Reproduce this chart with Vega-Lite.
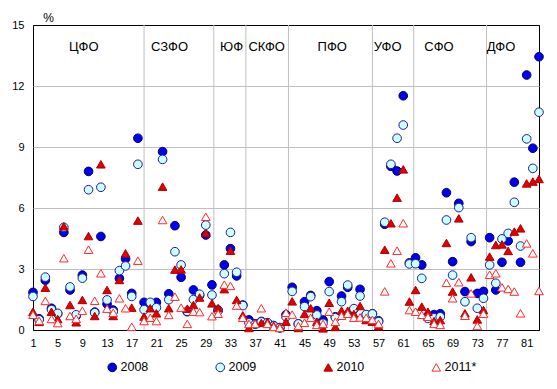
{
"$schema": "https://vega.github.io/schema/vega-lite/v6.json",
"width": 506, "height": 305,
"autosize": {"type": "none"},
"padding": {"left": 33, "top": 25, "right": 18, "bottom": 59},
"background": "white",
"config": {
 "view": {"stroke": "black", "strokeWidth": 1},
 "font": "Liberation Sans",
 "axis": {"domain": false, "ticks": false, "labelFont": "Liberation Sans", "labelFontSize": 11, "labelColor": "black", "grid": false},
 "axisX": {"labelOverlap": false, "labelSeparation": 0, "labelBound": false, "labelFlush": false}
},
"datasets": {
 "bounds": [{"r":19.0},{"r":30.3},{"r":35.5},{"r":42.4},{"r":56.0},{"r":62.7},{"r":74.5}],
 "labels": [{"r":9.23,"v":13.9,"t":"ЦФО"},{"r":23.13,"v":13.9,"t":"СЗФО"},{"r":33.18,"v":13.9,"t":"ЮФ"},{"r":38.87,"v":13.9,"t":"СКФО"},{"r":49.49,"v":13.9,"t":"ПФО"},{"r":58.47,"v":13.9,"t":"УФО"},{"r":66.8,"v":13.9,"t":"СФО"},{"r":76.84,"v":13.9,"t":"ДФО"}],
 "pts": [
{"r":1,"s":"2008","v":1.85},{"r":2,"s":"2008","v":0.55},{"r":3,"s":"2008","v":2.45},{"r":4,"s":"2008","v":1.07},{"r":5,"s":"2008","v":0.8},{"r":6,"s":"2008","v":4.8},{"r":7,"s":"2008","v":1.97},{"r":8,"s":"2008","v":0.7},{"r":9,"s":"2008","v":2.7},{"r":10,"s":"2008","v":7.8},
{"r":11,"s":"2008","v":0.88},{"r":12,"s":"2008","v":4.6},{"r":13,"s":"2008","v":1.28},{"r":14,"s":"2008","v":0.98},{"r":15,"s":"2008","v":2.54},{"r":16,"s":"2008","v":3.5},{"r":17,"s":"2008","v":1.8},{"r":18,"s":"2008","v":9.43},{"r":19,"s":"2008","v":1.36},{"r":20,"s":"2008","v":1.2},
{"r":21,"s":"2008","v":1.36},{"r":22,"s":"2008","v":8.77},{"r":23,"s":"2008","v":1.78},{"r":24,"s":"2008","v":5.13},{"r":25,"s":"2008","v":2.59},{"r":26,"s":"2008","v":0.9},{"r":27,"s":"2008","v":1.97},{"r":28,"s":"2008","v":1.7},{"r":29,"s":"2008","v":4.67},{"r":30,"s":"2008","v":2.22},
{"r":31,"s":"2008","v":0.98},{"r":32,"s":"2008","v":3.2},{"r":33,"s":"2008","v":4.0},{"r":34,"s":"2008","v":2.66},{"r":35,"s":"2008","v":1.23},{"r":36,"s":"2008","v":0.5},{"r":37,"s":"2008","v":0.3},{"r":38,"s":"2008","v":0.42},{"r":39,"s":"2008","v":0.35},{"r":40,"s":"2008","v":0.22},
{"r":41,"s":"2008","v":0.1},{"r":42,"s":"2008","v":0.75},{"r":43,"s":"2008","v":2.1},{"r":44,"s":"2008","v":0.3},{"r":45,"s":"2008","v":1.39},{"r":46,"s":"2008","v":1.7},{"r":47,"s":"2008","v":0.95},{"r":48,"s":"2008","v":0.49},{"r":49,"s":"2008","v":2.38},{"r":50,"s":"2008","v":0.65},
{"r":51,"s":"2008","v":1.67},{"r":52,"s":"2008","v":2.1},{"r":53,"s":"2008","v":1.02},{"r":54,"s":"2008","v":2.0},{"r":55,"s":"2008","v":0.74},{"r":56,"s":"2008","v":0.8},{"r":57,"s":"2008","v":0.45},{"r":58,"s":"2008","v":5.2},{"r":59,"s":"2008","v":8.05},{"r":60,"s":"2008","v":7.82},
{"r":61,"s":"2008","v":11.52},{"r":62,"s":"2008","v":3.3},{"r":63,"s":"2008","v":3.55},{"r":64,"s":"2008","v":3.2},{"r":65,"s":"2008","v":0.7},{"r":66,"s":"2008","v":0.76},{"r":67,"s":"2008","v":0.8},{"r":68,"s":"2008","v":6.75},{"r":69,"s":"2008","v":3.36},{"r":70,"s":"2008","v":6.23},
{"r":71,"s":"2008","v":1.89},{"r":72,"s":"2008","v":4.35},{"r":73,"s":"2008","v":1.8},{"r":74,"s":"2008","v":1.9},{"r":75,"s":"2008","v":4.54},{"r":76,"s":"2008","v":1.97},{"r":77,"s":"2008","v":3.33},{"r":78,"s":"2008","v":4.38},{"r":79,"s":"2008","v":7.27},{"r":80,"s":"2008","v":3.33},
{"r":81,"s":"2008","v":12.54},{"r":82,"s":"2008","v":8.94},{"r":83,"s":"2008","v":13.44},
{"r":1,"s":"2009","v":1.65},{"r":2,"s":"2009","v":0.5},{"r":3,"s":"2009","v":2.6},{"r":4,"s":"2009","v":1.0},{"r":5,"s":"2009","v":0.82},{"r":6,"s":"2009","v":5.05},{"r":7,"s":"2009","v":2.12},{"r":8,"s":"2009","v":0.75},{"r":9,"s":"2009","v":2.55},{"r":10,"s":"2009","v":6.9},
{"r":11,"s":"2009","v":0.85},{"r":12,"s":"2009","v":7.02},{"r":13,"s":"2009","v":1.48},{"r":14,"s":"2009","v":0.9},{"r":15,"s":"2009","v":2.92},{"r":16,"s":"2009","v":3.15},{"r":17,"s":"2009","v":1.65},{"r":18,"s":"2009","v":8.15},{"r":19,"s":"2009","v":1.0},{"r":20,"s":"2009","v":1.36},
{"r":21,"s":"2009","v":1.1},{"r":22,"s":"2009","v":8.39},{"r":23,"s":"2009","v":1.49},{"r":24,"s":"2009","v":3.85},{"r":25,"s":"2009","v":3.2},{"r":26,"s":"2009","v":0.92},{"r":27,"s":"2009","v":1.5},{"r":28,"s":"2009","v":1.76},{"r":29,"s":"2009","v":5.16},{"r":30,"s":"2009","v":1.72},
{"r":31,"s":"2009","v":0.95},{"r":32,"s":"2009","v":2.77},{"r":33,"s":"2009","v":4.8},{"r":34,"s":"2009","v":2.84},{"r":35,"s":"2009","v":1.2},{"r":36,"s":"2009","v":0.35},{"r":37,"s":"2009","v":0.28},{"r":38,"s":"2009","v":0.4},{"r":39,"s":"2009","v":0.36},{"r":40,"s":"2009","v":0.2},
{"r":41,"s":"2009","v":0.12},{"r":42,"s":"2009","v":0.65},{"r":43,"s":"2009","v":1.9},{"r":44,"s":"2009","v":0.3},{"r":45,"s":"2009","v":1.15},{"r":46,"s":"2009","v":1.64},{"r":47,"s":"2009","v":0.74},{"r":48,"s":"2009","v":0.33},{"r":49,"s":"2009","v":1.89},{"r":50,"s":"2009","v":0.61},
{"r":51,"s":"2009","v":1.39},{"r":52,"s":"2009","v":2.21},{"r":53,"s":"2009","v":1.05},{"r":54,"s":"2009","v":1.67},{"r":55,"s":"2009","v":0.76},{"r":56,"s":"2009","v":0.79},{"r":57,"s":"2009","v":0.41},{"r":58,"s":"2009","v":5.3},{"r":59,"s":"2009","v":8.15},{"r":60,"s":"2009","v":9.43},
{"r":61,"s":"2009","v":10.08},{"r":62,"s":"2009","v":3.25},{"r":63,"s":"2009","v":3.26},{"r":64,"s":"2009","v":2.54},{"r":65,"s":"2009","v":0.57},{"r":66,"s":"2009","v":0.6},{"r":67,"s":"2009","v":0.65},{"r":68,"s":"2009","v":5.41},{"r":69,"s":"2009","v":2.7},{"r":70,"s":"2009","v":6.02},
{"r":71,"s":"2009","v":1.39},{"r":72,"s":"2009","v":4.54},{"r":73,"s":"2009","v":1.07},{"r":74,"s":"2009","v":1.56},{"r":75,"s":"2009","v":3.2},{"r":76,"s":"2009","v":2.3},{"r":77,"s":"2009","v":4.48},{"r":78,"s":"2009","v":4.75},{"r":79,"s":"2009","v":6.28},{"r":80,"s":"2009","v":4.13},
{"r":81,"s":"2009","v":9.4},{"r":82,"s":"2009","v":7.95},{"r":83,"s":"2009","v":10.71},
{"r":1,"s":"2010","v":0.9},{"r":2,"s":"2010","v":0.4},{"r":3,"s":"2010","v":2.08},{"r":4,"s":"2010","v":0.9},{"r":5,"s":"2010","v":0.54},{"r":6,"s":"2010","v":5.1},{"r":7,"s":"2010","v":1.23},{"r":8,"s":"2010","v":0.38},{"r":9,"s":"2010","v":1.48},{"r":10,"s":"2010","v":4.62},
{"r":11,"s":"2010","v":0.69},{"r":12,"s":"2010","v":8.15},{"r":13,"s":"2010","v":1.97},{"r":14,"s":"2010","v":0.69},{"r":15,"s":"2010","v":2.46},{"r":16,"s":"2010","v":3.77},{"r":17,"s":"2010","v":1.1},{"r":18,"s":"2010","v":5.38},{"r":19,"s":"2010","v":0.66},{"r":20,"s":"2010","v":1.07},
{"r":21,"s":"2010","v":0.82},{"r":22,"s":"2010","v":7.05},{"r":23,"s":"2010","v":1.07},{"r":24,"s":"2010","v":2.97},{"r":25,"s":"2010","v":2.98},{"r":26,"s":"2010","v":1.05},{"r":27,"s":"2010","v":1.23},{"r":28,"s":"2010","v":1.6},{"r":29,"s":"2010","v":4.77},{"r":30,"s":"2010","v":1.31},
{"r":31,"s":"2010","v":1.08},{"r":32,"s":"2010","v":2.01},{"r":33,"s":"2010","v":3.9},{"r":34,"s":"2010","v":1.48},{"r":35,"s":"2010","v":0.72},{"r":36,"s":"2010","v":0.1},{"r":37,"s":"2010","v":0.33},{"r":38,"s":"2010","v":0.35},{"r":39,"s":"2010","v":0.4},{"r":40,"s":"2010","v":0.2},
{"r":41,"s":"2010","v":0.15},{"r":42,"s":"2010","v":0.41},{"r":43,"s":"2010","v":1.41},{"r":44,"s":"2010","v":0.1},{"r":45,"s":"2010","v":0.79},{"r":46,"s":"2010","v":1.07},{"r":47,"s":"2010","v":0.41},{"r":48,"s":"2010","v":0.08},{"r":49,"s":"2010","v":1.34},{"r":50,"s":"2010","v":0.15},
{"r":51,"s":"2010","v":0.95},{"r":52,"s":"2010","v":0.95},{"r":53,"s":"2010","v":0.79},{"r":54,"s":"2010","v":1.18},{"r":55,"s":"2010","v":0.49},{"r":56,"s":"2010","v":0.41},{"r":57,"s":"2010","v":0.18},{"r":58,"s":"2010","v":3.95},{"r":59,"s":"2010","v":5.25},{"r":60,"s":"2010","v":6.51},
{"r":61,"s":"2010","v":7.9},{"r":62,"s":"2010","v":1.4},{"r":63,"s":"2010","v":1.97},{"r":64,"s":"2010","v":1.15},{"r":65,"s":"2010","v":0.9},{"r":66,"s":"2010","v":0.44},{"r":67,"s":"2010","v":0.49},{"r":68,"s":"2010","v":4.28},{"r":69,"s":"2010","v":1.89},{"r":70,"s":"2010","v":5.49},
{"r":71,"s":"2010","v":0.82},{"r":72,"s":"2010","v":2.59},{"r":73,"s":"2010","v":0.52},{"r":74,"s":"2010","v":0.98},{"r":75,"s":"2010","v":3.61},{"r":76,"s":"2010","v":4.18},{"r":77,"s":"2010","v":4.21},{"r":78,"s":"2010","v":3.89},{"r":79,"s":"2010","v":4.84},{"r":80,"s":"2010","v":5.0},
{"r":81,"s":"2010","v":7.21},{"r":82,"s":"2010","v":7.3},{"r":83,"s":"2010","v":7.43},
{"r":1,"s":"2011*","v":0.75},{"r":2,"s":"2011*","v":0.45},{"r":3,"s":"2011*","v":1.43},{"r":4,"s":"2011*","v":0.54},{"r":5,"s":"2011*","v":0.34},{"r":6,"s":"2011*","v":3.53},{"r":7,"s":"2011*","v":0.69},{"r":8,"s":"2011*","v":0.55},{"r":9,"s":"2011*","v":0.95},{"r":10,"s":"2011*","v":3.95},
{"r":11,"s":"2011*","v":1.44},{"r":12,"s":"2011*","v":2.79},{"r":13,"s":"2011*","v":1.05},{"r":14,"s":"2011*","v":0.85},{"r":15,"s":"2011*","v":1.56},{"r":16,"s":"2011*","v":1.07},{"r":17,"s":"2011*","v":0.16},{"r":18,"s":"2011*","v":3.41},{"r":19,"s":"2011*","v":0.44},{"r":20,"s":"2011*","v":0.6},
{"r":21,"s":"2011*","v":0.44},{"r":22,"s":"2011*","v":5.41},{"r":23,"s":"2011*","v":0.74},{"r":24,"s":"2011*","v":1.64},{"r":25,"s":"2011*","v":1.1},{"r":26,"s":"2011*","v":0.3},{"r":27,"s":"2011*","v":0.9},{"r":28,"s":"2011*","v":0.88},{"r":29,"s":"2011*","v":5.57},{"r":30,"s":"2011*","v":0.68},
{"r":31,"s":"2011*","v":0.8},{"r":32,"s":"2011*","v":2.23},{"r":33,"s":"2011*","v":2.17},{"r":34,"s":"2011*","v":1.2},{"r":35,"s":"2011*","v":0.6},{"r":36,"s":"2011*","v":0.3},{"r":37,"s":"2011*","v":0.3},{"r":38,"s":"2011*","v":1.07},{"r":39,"s":"2011*","v":0.3},{"r":40,"s":"2011*","v":0.15},
{"r":41,"s":"2011*","v":0.1},{"r":42,"s":"2011*","v":0.85},{"r":43,"s":"2011*","v":0.76},{"r":44,"s":"2011*","v":0.2},{"r":45,"s":"2011*","v":0.36},{"r":46,"s":"2011*","v":0.6},{"r":47,"s":"2011*","v":0.25},{"r":48,"s":"2011*","v":0.3},{"r":49,"s":"2011*","v":0.9},{"r":50,"s":"2011*","v":0.4},
{"r":51,"s":"2011*","v":0.7},{"r":52,"s":"2011*","v":0.8},{"r":53,"s":"2011*","v":0.6},{"r":54,"s":"2011*","v":0.62},{"r":55,"s":"2011*","v":0.6},{"r":56,"s":"2011*","v":0.5},{"r":57,"s":"2011*","v":0.3},{"r":58,"s":"2011*","v":1.9},{"r":59,"s":"2011*","v":3.28},{"r":60,"s":"2011*","v":3.9},
{"r":61,"s":"2011*","v":5.25},{"r":62,"s":"2011*","v":0.98},{"r":63,"s":"2011*","v":0.9},{"r":64,"s":"2011*","v":0.75},{"r":65,"s":"2011*","v":0.65},{"r":66,"s":"2011*","v":0.3},{"r":67,"s":"2011*","v":0.25},{"r":68,"s":"2011*","v":2.32},{"r":69,"s":"2011*","v":1.56},{"r":70,"s":"2011*","v":2.35},
{"r":71,"s":"2011*","v":0.7},{"r":72,"s":"2011*","v":1.8},{"r":73,"s":"2011*","v":0.2},{"r":74,"s":"2011*","v":0.8},{"r":75,"s":"2011*","v":2.72},{"r":76,"s":"2011*","v":2.79},{"r":77,"s":"2011*","v":2.1},{"r":78,"s":"2011*","v":2.02},{"r":79,"s":"2011*","v":1.89},{"r":80,"s":"2011*","v":0.82},
{"r":81,"s":"2011*","v":4.26},{"r":82,"s":"2011*","v":3.77},{"r":83,"s":"2011*","v":1.92}
 ]
},
"layer": [
 {
  "data": {"name": "bounds"},
  "mark": {"type": "rule", "color": "#bfbfbf", "strokeWidth": 1},
  "encoding": {
   "x": {"field": "r", "type": "quantitative", "scale": {"domain": [1, 83], "nice": false, "zero": false}, "axis": {"values": [1,5,9,13,17,21,25,29,33,37,41,45,49,53,57,61,65,69,73,77,81], "title": null, "labelPadding": 7, "labelOverlap": false}}
  }
 },
 {
  "data": {"name": "labels"},
  "mark": {"type": "text", "fontSize": 13, "font": "Liberation Sans", "color": "black", "baseline": "middle", "align": "center"},
  "encoding": {
   "x": {"field": "r", "type": "quantitative", "axis": {"values": [1,5,9,13,17,21,25,29,33,37,41,45,49,53,57,61,65,69,73,77,81], "title": null, "labelPadding": 7, "labelOverlap": false}},
   "y": {"field": "v", "type": "quantitative", "scale": {"domain": [0, 15], "nice": false}},
   "text": {"field": "t"}
  }
 },
 {
  "data": {"name": "pts"},
  "mark": {"type": "point", "filled": true, "strokeWidth": 1, "opacity": 1, "size": 75},
  "encoding": {
   "x": {"field": "r", "type": "quantitative", "axis": {"values": [1,5,9,13,17,21,25,29,33,37,41,45,49,53,57,61,65,69,73,77,81], "title": null, "labelPadding": 7, "labelOverlap": false}},
   "y": {"field": "v", "type": "quantitative", "axis": {"values": [0,3,6,9,12,15], "title": "%", "titleAngle": 0, "titleX": 15, "titleY": -8, "titleAlign": "center", "titleBaseline": "middle", "titleFontWeight": "normal", "titleFontSize": 12, "titleFont": "Liberation Sans", "labelPadding": 9, "grid": true, "gridColor": {"condition": {"test": "datum.value === 15 || datum.value === 0", "value": "black"}, "value": "#bfbfbf"}}},
   "fill": {"field": "s", "type": "nominal", "scale": {"domain": ["2008","2009","2010","2011*"], "range": ["#0000ee","#ccffff","#e00000","#ffffff"]},
     "legend": {"title": null, "orient": "none", "direction": "horizontal", "legendX": 73, "legendY": 336, "labelFontSize": 12.5, "labelFont": "Liberation Sans", "labelColor": "black", "labelOffset": 2, "columnPadding": 64, "symbolSize": 75, "symbolStrokeWidth": 1}},
   "stroke": {"field": "s", "type": "nominal", "scale": {"domain": ["2008","2009","2010","2011*"], "range": ["#00006e","#1c1c9c","#b00000","#ff2a2a"]}},
   "shape": {"field": "s", "type": "nominal", "scale": {"domain": ["2008","2009","2010","2011*"], "range": ["circle","circle","triangle-up","triangle-up"]}}
  }
 }
]
}
